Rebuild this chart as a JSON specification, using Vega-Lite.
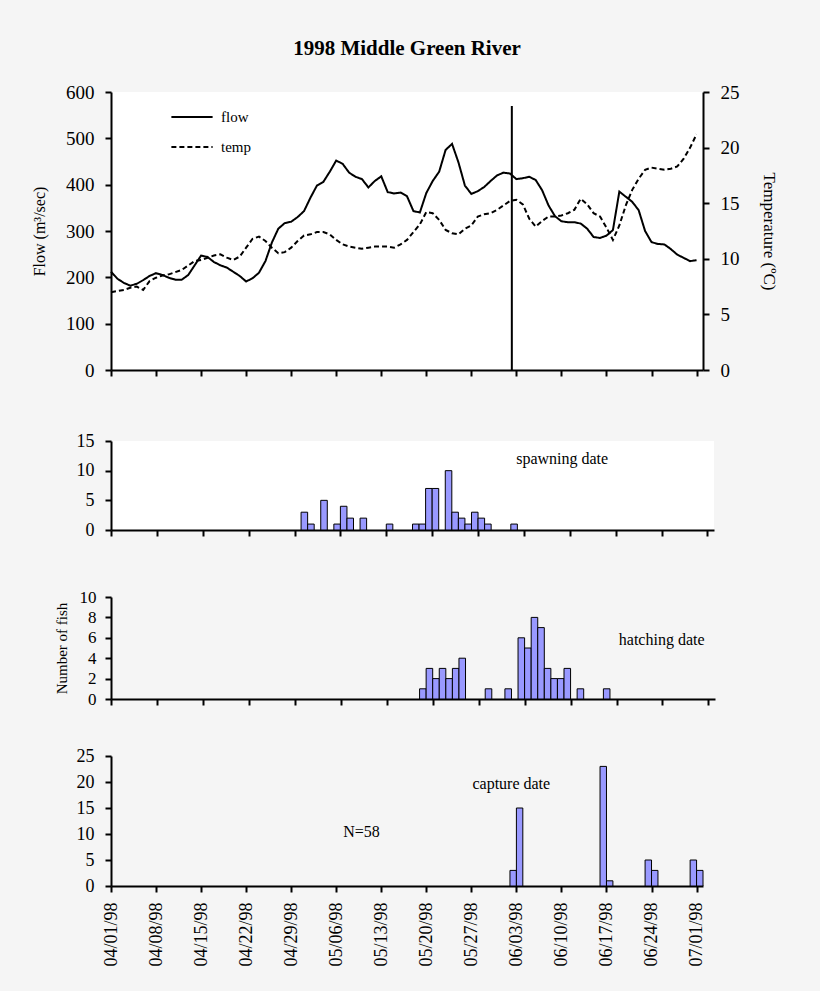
{
  "$schema": "https://vega.github.io/schema/vega-lite/v6.json",
  "background": "#f5f5f5",
  "padding": {"left": 31, "top": 38, "right": 43, "bottom": 28},
  "autosize": {"type": "pad"},
  "config": {
    "font": "Liberation Serif",
    "view": {"stroke": null},
    "axis": {"domainColor": "black", "domainWidth": 2, "tickColor": "black", "tickWidth": 2, "tickSize": 6, "labelColor": "black", "labelFont": "Liberation Serif", "titleFont": "Liberation Serif", "titleFontWeight": "normal", "titleColor": "black", "grid": false, "labelOverlap": false}
  },
  "datasets": {
    "river": [
      {"date":"1998-04-01","flow":212,"temp":7.0},{"date":"1998-04-02","flow":197,"temp":7.1},{"date":"1998-04-03","flow":188,"temp":7.2},{"date":"1998-04-04","flow":182,"temp":7.4},{"date":"1998-04-05","flow":186,"temp":7.5},{"date":"1998-04-06","flow":194,"temp":7.2},{"date":"1998-04-07","flow":203,"temp":8.0},{"date":"1998-04-08","flow":209,"temp":8.3},{"date":"1998-04-09","flow":205,"temp":8.5},{"date":"1998-04-10","flow":199,"temp":8.6},
      {"date":"1998-04-11","flow":195,"temp":8.8},{"date":"1998-04-12","flow":195,"temp":9.0},{"date":"1998-04-13","flow":205,"temp":9.4},{"date":"1998-04-14","flow":226,"temp":9.8},{"date":"1998-04-15","flow":247,"temp":9.9},{"date":"1998-04-16","flow":244,"temp":10.1},{"date":"1998-04-17","flow":233,"temp":10.3},{"date":"1998-04-18","flow":226,"temp":10.4},{"date":"1998-04-19","flow":221,"temp":10.1},{"date":"1998-04-20","flow":212,"temp":9.9},
      {"date":"1998-04-21","flow":203,"temp":10.2},{"date":"1998-04-22","flow":191,"temp":11.0},{"date":"1998-04-23","flow":198,"temp":11.8},{"date":"1998-04-24","flow":210,"temp":12.0},{"date":"1998-04-25","flow":235,"temp":11.6},{"date":"1998-04-26","flow":275,"temp":11.0},{"date":"1998-04-27","flow":305,"temp":10.5},{"date":"1998-04-28","flow":317,"temp":10.6},{"date":"1998-04-29","flow":320,"temp":11.0},{"date":"1998-04-30","flow":330,"temp":11.6},
      {"date":"1998-05-01","flow":343,"temp":12.1},{"date":"1998-05-02","flow":372,"temp":12.2},{"date":"1998-05-03","flow":398,"temp":12.4},{"date":"1998-05-04","flow":406,"temp":12.4},{"date":"1998-05-05","flow":428,"temp":12.2},{"date":"1998-05-06","flow":452,"temp":11.7},{"date":"1998-05-07","flow":445,"temp":11.3},{"date":"1998-05-08","flow":426,"temp":11.1},{"date":"1998-05-09","flow":417,"temp":11.0},{"date":"1998-05-10","flow":412,"temp":10.9},
      {"date":"1998-05-11","flow":394,"temp":11.0},{"date":"1998-05-12","flow":408,"temp":11.1},{"date":"1998-05-13","flow":418,"temp":11.1},{"date":"1998-05-14","flow":384,"temp":11.1},{"date":"1998-05-15","flow":381,"temp":11.0},{"date":"1998-05-16","flow":383,"temp":11.3},{"date":"1998-05-17","flow":375,"temp":11.7},{"date":"1998-05-18","flow":343,"temp":12.4},{"date":"1998-05-19","flow":340,"temp":13.1},{"date":"1998-05-20","flow":382,"temp":14.2},
      {"date":"1998-05-21","flow":408,"temp":14.1},{"date":"1998-05-22","flow":428,"temp":13.5},{"date":"1998-05-23","flow":475,"temp":12.6},{"date":"1998-05-24","flow":488,"temp":12.3},{"date":"1998-05-25","flow":448,"temp":12.2},{"date":"1998-05-26","flow":398,"temp":12.7},{"date":"1998-05-27","flow":380,"temp":13.0},{"date":"1998-05-28","flow":386,"temp":13.8},{"date":"1998-05-29","flow":395,"temp":14.0},{"date":"1998-05-30","flow":408,"temp":14.1},
      {"date":"1998-05-31","flow":420,"temp":14.4},{"date":"1998-06-01","flow":426,"temp":14.8},{"date":"1998-06-02","flow":424,"temp":15.2},{"date":"1998-06-03","flow":412,"temp":15.3},{"date":"1998-06-04","flow":414,"temp":14.9},{"date":"1998-06-05","flow":417,"temp":13.6},{"date":"1998-06-06","flow":410,"temp":12.9},{"date":"1998-06-07","flow":388,"temp":13.4},{"date":"1998-06-08","flow":355,"temp":13.8},{"date":"1998-06-09","flow":332,"temp":13.8},
      {"date":"1998-06-10","flow":321,"temp":13.9},{"date":"1998-06-11","flow":319,"temp":14.1},{"date":"1998-06-12","flow":319,"temp":14.4},{"date":"1998-06-13","flow":316,"temp":15.4},{"date":"1998-06-14","flow":305,"temp":14.9},{"date":"1998-06-15","flow":287,"temp":14.1},{"date":"1998-06-16","flow":285,"temp":13.8},{"date":"1998-06-17","flow":290,"temp":12.8},{"date":"1998-06-18","flow":302,"temp":11.7},{"date":"1998-06-19","flow":385,"temp":13.0},
      {"date":"1998-06-20","flow":374,"temp":14.8},{"date":"1998-06-21","flow":363,"temp":16.2},{"date":"1998-06-22","flow":345,"temp":17.2},{"date":"1998-06-23","flow":300,"temp":18.0},{"date":"1998-06-24","flow":276,"temp":18.2},{"date":"1998-06-25","flow":272,"temp":18.1},{"date":"1998-06-26","flow":271,"temp":18.0},{"date":"1998-06-27","flow":261,"temp":18.1},{"date":"1998-06-28","flow":249,"temp":18.3},{"date":"1998-06-29","flow":242,"temp":19.0},
      {"date":"1998-06-30","flow":235,"temp":20.0},{"date":"1998-07-01","flow":237,"temp":21.2}
    ],
    "spawning": [
      {"start":"1998-04-30","end":"1998-05-01","count":3},{"start":"1998-05-01","end":"1998-05-02","count":1},{"start":"1998-05-03","end":"1998-05-04","count":5},{"start":"1998-05-05","end":"1998-05-06","count":1},{"start":"1998-05-06","end":"1998-05-07","count":4},{"start":"1998-05-07","end":"1998-05-08","count":2},{"start":"1998-05-09","end":"1998-05-10","count":2},{"start":"1998-05-13","end":"1998-05-14","count":1},{"start":"1998-05-17","end":"1998-05-18","count":1},{"start":"1998-05-18","end":"1998-05-19","count":1},
      {"start":"1998-05-19","end":"1998-05-20","count":7},{"start":"1998-05-20","end":"1998-05-21","count":7},{"start":"1998-05-22","end":"1998-05-23","count":10},{"start":"1998-05-23","end":"1998-05-24","count":3},{"start":"1998-05-24","end":"1998-05-25","count":2},{"start":"1998-05-25","end":"1998-05-26","count":1},{"start":"1998-05-26","end":"1998-05-27","count":3},{"start":"1998-05-27","end":"1998-05-28","count":2},{"start":"1998-05-28","end":"1998-05-29","count":1},{"start":"1998-06-01","end":"1998-06-02","count":1}
    ],
    "hatching": [
      {"start":"1998-05-18","end":"1998-05-19","count":1},{"start":"1998-05-19","end":"1998-05-20","count":3},{"start":"1998-05-20","end":"1998-05-21","count":2},{"start":"1998-05-21","end":"1998-05-22","count":3},{"start":"1998-05-22","end":"1998-05-23","count":2},{"start":"1998-05-23","end":"1998-05-24","count":3},{"start":"1998-05-24","end":"1998-05-25","count":4},{"start":"1998-05-28","end":"1998-05-29","count":1},{"start":"1998-05-31","end":"1998-06-01","count":1},{"start":"1998-06-02","end":"1998-06-03","count":6},
      {"start":"1998-06-03","end":"1998-06-04","count":5},{"start":"1998-06-04","end":"1998-06-05","count":8},{"start":"1998-06-05","end":"1998-06-06","count":7},{"start":"1998-06-06","end":"1998-06-07","count":3},{"start":"1998-06-07","end":"1998-06-08","count":2},{"start":"1998-06-08","end":"1998-06-09","count":2},{"start":"1998-06-09","end":"1998-06-10","count":3},{"start":"1998-06-11","end":"1998-06-12","count":1},{"start":"1998-06-15","end":"1998-06-16","count":1}
    ],
    "capture": [
      {"start":"1998-06-02","end":"1998-06-03","count":3},{"start":"1998-06-03","end":"1998-06-04","count":15},{"start":"1998-06-16","end":"1998-06-17","count":23},{"start":"1998-06-17","end":"1998-06-18","count":1},{"start":"1998-06-23","end":"1998-06-24","count":5},{"start":"1998-06-24","end":"1998-06-25","count":3},{"start":"1998-06-30","end":"1998-07-01","count":5},{"start":"1998-07-01","end":"1998-07-02","count":3}
    ],
    "marker": [{"date":"1998-06-02T07:00:00Z","lo":0,"hi":570}],
    "notes": [
      {"panel":"spawning","start":"1998-06-08T20:00:00Z","count":11.9,"label":"spawning date"},
      {"panel":"hatching","start":"1998-06-23T21:00:00Z","count":5.8,"label":"hatching date"},
      {"panel":"capture","start":"1998-06-02T05:00:00Z","count":19.6,"label":"capture date"},
      {"panel":"capture","start":"1998-05-09T22:00:00Z","count":10.3,"label":"N=58"}
    ]
  },
  "bounds": "flush",
  "spacing": 71,
  "vconcat": [
    {
      "title": {"text": "1998 Middle Green River", "font": "Liberation Serif", "fontSize": 21, "fontWeight": "bold", "color": "black", "anchor": "middle", "frame": "group", "offset": 24},
      "width": 592,
      "height": 278,
      "view": {"fill": "white", "stroke": null},
      "resolve": {"scale": {"y": "independent"}},
      "layer": [
        {
          "layer": [
            {
              "data": {"name": "river"},
              "mark": {"type": "line", "color": "black", "strokeWidth": 2},
              "encoding": {
                "x": {"field": "date", "type": "temporal", "scale": {"type": "utc", "domain": [{"year":1998,"month":4,"date":1,"utc":true},{"year":1998,"month":7,"date":2,"utc":true}], "nice": false},
                  "axis": {"title": null, "labels": false, "values": [{"year":1998,"month":4,"date":1,"utc":true},{"year":1998,"month":4,"date":8,"utc":true},{"year":1998,"month":4,"date":15,"utc":true},{"year":1998,"month":4,"date":22,"utc":true},{"year":1998,"month":4,"date":29,"utc":true},{"year":1998,"month":5,"date":6,"utc":true},{"year":1998,"month":5,"date":13,"utc":true},{"year":1998,"month":5,"date":20,"utc":true},{"year":1998,"month":5,"date":27,"utc":true},{"year":1998,"month":6,"date":3,"utc":true},{"year":1998,"month":6,"date":10,"utc":true},{"year":1998,"month":6,"date":17,"utc":true},{"year":1998,"month":6,"date":24,"utc":true},{"year":1998,"month":7,"date":1,"utc":true}]}},
                "y": {"field": "flow", "type": "quantitative", "scale": {"domain": [0, 600], "nice": false},
                  "axis": {"title": "Flow (m³/sec)", "titleFontSize": 16, "labelFontSize": 19, "labelOverlap": false, "values": [0,100,200,300,400,500,600], "labelPadding": 11, "titlePadding": 18}},
                "strokeDash": {"datum": "flow", "type": "nominal",
                  "scale": {"domain": ["flow", "temp"], "range": [[1, 0], [5, 3]]},
                  "legend": {"orient": "none", "legendX": 59, "legendY": 3, "title": null, "symbolType": "stroke", "symbolSize": 1700, "symbolStrokeWidth": 2, "symbolStrokeColor": "black", "labelFont": "Liberation Serif", "labelFontSize": 15, "labelColor": "black", "rowPadding": -14, "labelOffset": 7}}
              }
            },
            {
              "data": {"name": "marker"},
              "mark": {"type": "rule", "color": "black", "strokeWidth": 2},
              "encoding": {
                "x": {"field": "date", "type": "temporal"},
                "y": {"field": "lo", "type": "quantitative"},
                "y2": {"field": "hi"}
              }
            }
          ]
        },
        {
          "data": {"name": "river"},
          "mark": {"type": "line", "color": "black", "strokeWidth": 2},
          "encoding": {
            "x": {"field": "date", "type": "temporal"},
            "y": {"field": "temp", "type": "quantitative", "scale": {"domain": [0, 25], "nice": false},
              "axis": {"orient": "right", "title": "Temperature (ºC)", "titleFontSize": 17, "labelFontSize": 19, "labelOverlap": false, "values": [0,5,10,15,20,25], "labelPadding": 11, "titlePadding": 20}},
            "strokeDash": {"datum": "temp", "type": "nominal"}
          }
        }
      ]
    },
    {
      "bounds": "flush",
      "spacing": 67,
      "vconcat": [
        {
          "width": 603,
          "height": 89,
          "view": {"fill": "white", "stroke": null},
          "encoding": {
            "x": {"field": "start", "type": "temporal", "scale": {"type": "utc", "domain": [{"year":1998,"month":4,"date":1,"utc":true},{"year":1998,"month":7,"date":2,"utc":true}], "nice": false},
              "axis": {"title": null, "labels": false, "values": [{"year":1998,"month":4,"date":1,"utc":true},{"year":1998,"month":4,"date":8,"utc":true},{"year":1998,"month":4,"date":15,"utc":true},{"year":1998,"month":4,"date":22,"utc":true},{"year":1998,"month":4,"date":29,"utc":true},{"year":1998,"month":5,"date":6,"utc":true},{"year":1998,"month":5,"date":13,"utc":true},{"year":1998,"month":5,"date":20,"utc":true},{"year":1998,"month":5,"date":27,"utc":true},{"year":1998,"month":6,"date":3,"utc":true},{"year":1998,"month":6,"date":10,"utc":true},{"year":1998,"month":6,"date":17,"utc":true},{"year":1998,"month":6,"date":24,"utc":true},{"year":1998,"month":7,"date":1,"utc":true}]}},
            "y": {"field": "count", "type": "quantitative", "scale": {"domain": [0, 15], "nice": false},
              "axis": {"title": null, "labelFontSize": 18, "labelOverlap": false, "values": [0,5,10,15], "labelPadding": 11}}
          },
          "layer": [
            {
              "data": {"name": "spawning"},
              "mark": {"type": "bar", "fill": "#9999ff", "stroke": "black", "strokeWidth": 1},
              "encoding": {"x2": {"field": "end"}, "y2": {"datum": 0}}
            },
            {
              "data": {"name": "notes"},
              "transform": [{"filter": "datum.panel == 'spawning'"}],
              "mark": {"type": "text", "font": "Liberation Serif", "fontSize": 16, "color": "black", "align": "center", "baseline": "middle"},
              "encoding": {"text": {"field": "label"}}
            }
          ]
        },
        {
          "bounds": "flush",
          "spacing": 57,
          "vconcat": [
            {
              "width": 604,
              "height": 102,
              "encoding": {
                "x": {"field": "start", "type": "temporal", "scale": {"type": "utc", "domain": [{"year":1998,"month":4,"date":1,"utc":true},{"year":1998,"month":7,"date":2,"utc":true}], "nice": false},
                  "axis": {"title": null, "labels": false, "values": [{"year":1998,"month":4,"date":1,"utc":true},{"year":1998,"month":4,"date":8,"utc":true},{"year":1998,"month":4,"date":15,"utc":true},{"year":1998,"month":4,"date":22,"utc":true},{"year":1998,"month":4,"date":29,"utc":true},{"year":1998,"month":5,"date":6,"utc":true},{"year":1998,"month":5,"date":13,"utc":true},{"year":1998,"month":5,"date":20,"utc":true},{"year":1998,"month":5,"date":27,"utc":true},{"year":1998,"month":6,"date":3,"utc":true},{"year":1998,"month":6,"date":10,"utc":true},{"year":1998,"month":6,"date":17,"utc":true},{"year":1998,"month":6,"date":24,"utc":true},{"year":1998,"month":7,"date":1,"utc":true}]}},
                "y": {"field": "count", "type": "quantitative", "scale": {"domain": [0, 10], "nice": false},
                  "axis": {"title": "Number of fish", "titleFontSize": 15, "labelFontSize": 17, "labelOverlap": false, "values": [0,2,4,6,8,10], "labelPadding": 9, "titlePadding": 10}}
              },
              "layer": [
                {
                  "data": {"name": "hatching"},
                  "mark": {"type": "bar", "fill": "#9999ff", "stroke": "black", "strokeWidth": 1},
                  "encoding": {"x2": {"field": "end"}, "y2": {"datum": 0}}
                },
                {
                  "data": {"name": "notes"},
                  "transform": [{"filter": "datum.panel == 'hatching'"}],
                  "mark": {"type": "text", "font": "Liberation Serif", "fontSize": 16, "color": "black", "align": "center", "baseline": "middle"},
                  "encoding": {"text": {"field": "label"}}
                }
              ]
            },
            {
              "width": 592,
              "height": 130,
              "encoding": {
                "x": {"field": "start", "type": "temporal", "scale": {"type": "utc", "domain": [{"year":1998,"month":4,"date":1,"utc":true},{"year":1998,"month":7,"date":2,"utc":true}], "nice": false},
                  "axis": {"title": null, "format": "%m/%d/%y", "labelAngle": 270, "labelFontSize": 18, "labelPadding": 10, "labelFlush": false, "labelOverlap": false, "values": [{"year":1998,"month":4,"date":1,"utc":true},{"year":1998,"month":4,"date":8,"utc":true},{"year":1998,"month":4,"date":15,"utc":true},{"year":1998,"month":4,"date":22,"utc":true},{"year":1998,"month":4,"date":29,"utc":true},{"year":1998,"month":5,"date":6,"utc":true},{"year":1998,"month":5,"date":13,"utc":true},{"year":1998,"month":5,"date":20,"utc":true},{"year":1998,"month":5,"date":27,"utc":true},{"year":1998,"month":6,"date":3,"utc":true},{"year":1998,"month":6,"date":10,"utc":true},{"year":1998,"month":6,"date":17,"utc":true},{"year":1998,"month":6,"date":24,"utc":true},{"year":1998,"month":7,"date":1,"utc":true}]}},
                "y": {"field": "count", "type": "quantitative", "scale": {"domain": [0, 25], "nice": false},
                  "axis": {"title": null, "labelFontSize": 18, "labelOverlap": false, "values": [0,5,10,15,20,25], "labelPadding": 11}}
              },
              "layer": [
                {
                  "data": {"name": "capture"},
                  "mark": {"type": "bar", "fill": "#9999ff", "stroke": "black", "strokeWidth": 1},
                  "encoding": {"x2": {"field": "end"}, "y2": {"datum": 0}}
                },
                {
                  "data": {"name": "notes"},
                  "transform": [{"filter": "datum.panel == 'capture'"}],
                  "mark": {"type": "text", "font": "Liberation Serif", "fontSize": 16, "color": "black", "align": "center", "baseline": "middle"},
                  "encoding": {"text": {"field": "label"}}
                }
              ]
            }
          ]
        }
      ]
    }
  ]
}
